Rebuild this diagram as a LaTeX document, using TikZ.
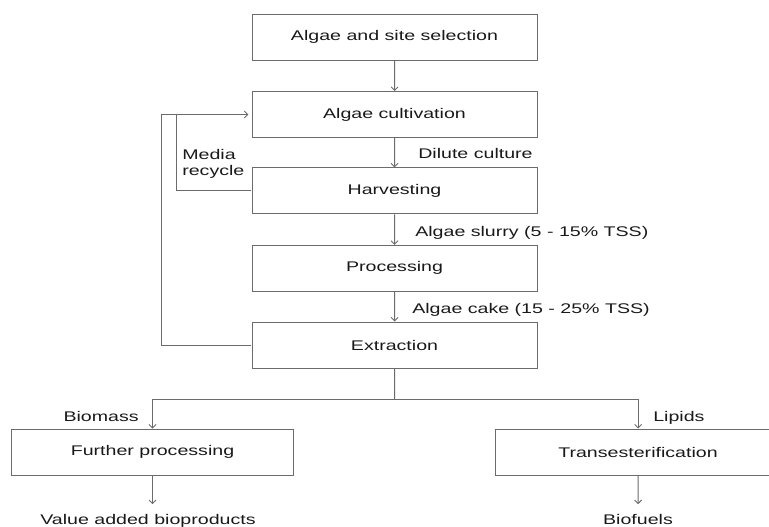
\documentclass[tikz,border=0pt]{standalone}
\usepackage{fontspec}
\setmainfont{Liberation Sans}
\usepackage{tikz}
\usetikzlibrary{arrows.meta}
\definecolor{line gray}{rgb}{0.42, 0.42, 0.42}
\definecolor{text gray}{rgb}{0.1, 0.1, 0.1}
\tikzset{
	stage/.style = {draw = line gray, line width = 0.9pt, text = text gray,
		minimum width = 203.5pt, minimum height = 46pt, inner sep = 0pt,
		transform shape, font = \fontsize{14}{16}\selectfont},
	flowlabel/.style = {text = text gray, inner sep = 0pt,
		transform shape, font = \fontsize{14}{16}\selectfont},
	link/.style = {draw = line gray, line width = 0.9pt},
	flow/.style = {link, -{Straight Barb[length = 3.5pt, width = 7pt]}}
}

\begin{document}
\begin{tikzpicture}[x = 0.7143pt, y = -1pt, xscale = 1.4]
			\useasboundingbox (0, 0) rectangle (769, 527);
			\clip (0, 0) rectangle (769, 527);
			% main chain
			\node[stage] (select) at (394.5, 37.3) {Algae and site selection};
			\node[stage] (cultivate) at (394.5, 114.5) {Algae cultivation};
			\node[stage] (harvest) at (394.5, 190.8) {Harvesting};
			\node[stage] (process) at (394.5, 268.3) {Processing};
			\node[stage] (extract) at (394.5, 345) {Extraction};
			\draw[flow] (select) -- (cultivate);
			\draw[flow] (cultivate) -- (harvest);
			\draw[flow] (harvest) -- (process);
			\draw[flow] (process) -- (extract);
			\node[flowlabel, anchor = base west] (dilute) at (418, 158) {Dilute culture};
			\node[flowlabel, anchor = base west] (slurry) at (415, 236) {Algae slurry (5 - 15\% TSS)};
			\node[flowlabel, anchor = base west] (cake) at (412, 313) {Algae cake (15 - 25\% TSS)};
			% media recycle
			\coordinate (outer) at (161, 114.5);
			\coordinate (inner) at (176, 114.5);
			\draw[flow, shorten > = 3pt] (extract.west) -| (outer) -- (cultivate.west);
			\draw[link] (harvest.west) -| (inner);
			\node[flowlabel, anchor = north west, align = left] (recycle) at (182, 149.5) {Media\\recycle};
			% split after extraction
			\node[stage, minimum width = 202pt] (further) at (152.5, 452) {Further processing};
			\node[stage] (trans) at (638, 452) {Transesterification};
			\coordinate (split) at (394.5, 399);
			\draw[link] (extract) -- (split);
			\draw[flow] (split) -| (further.north);
			\draw[flow] (split) -| (trans.north);
			\node[flowlabel, anchor = base east] (biomass) at (139, 421) {Biomass};
			\node[flowlabel, anchor = base west] (lipids) at (653, 421) {Lipids};
			% products
			\node[flowlabel, anchor = base] (bioproducts) at (148, 524.5) {Value added bioproducts};
			\node[flowlabel, anchor = base] (biofuels) at (638, 524.5) {Biofuels};
			\draw[flow, shorten > = 10pt] (further) -- (further.south |- bioproducts.north);
			\draw[flow, shorten > = 10pt] (trans) -- (trans.south |- biofuels.north);
		\end{tikzpicture}
\end{document}
